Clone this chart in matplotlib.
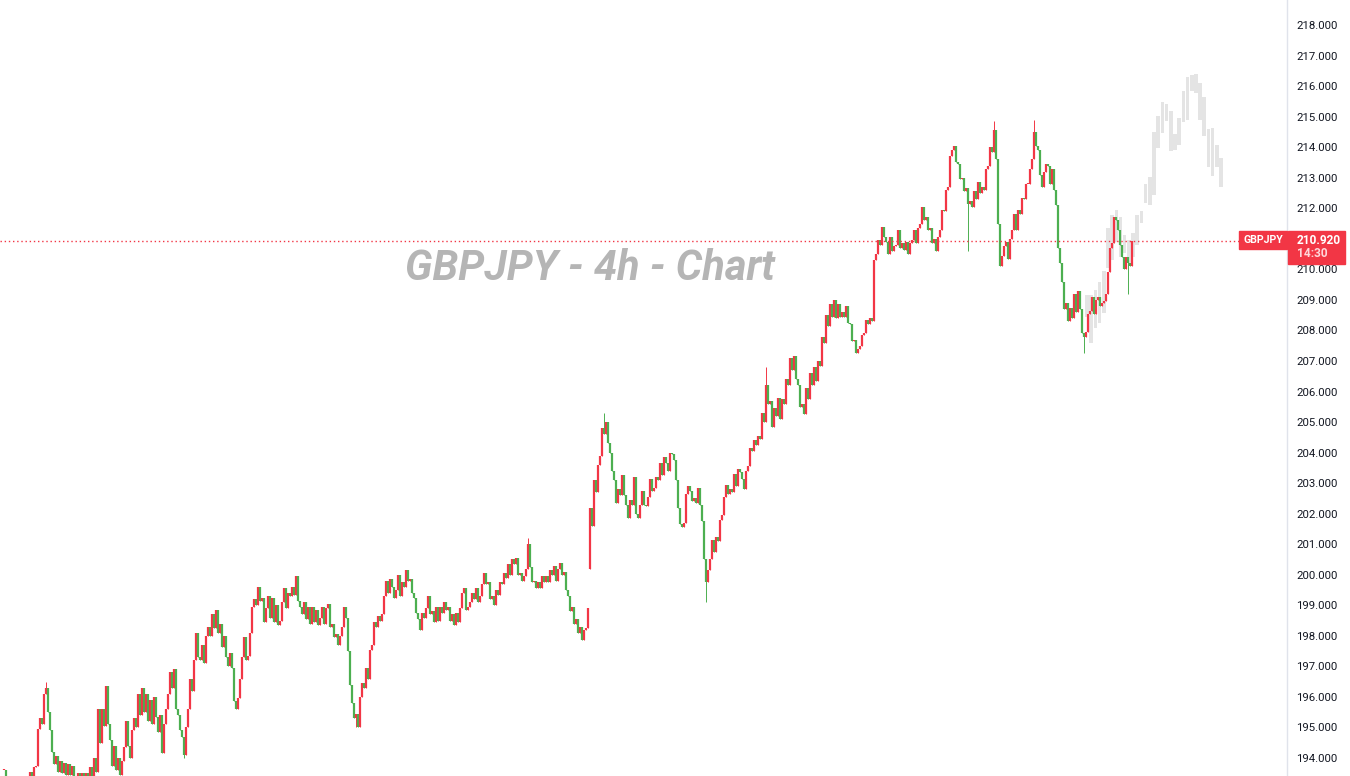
import numpy as np
import matplotlib.pyplot as plt
from matplotlib.patches import Rectangle

plt.rcParams['font.family'] = ['Roboto', 'DejaVu Sans']

up_col = '#f23645'
down_col = '#4caf50'
ghost_col = '#e4e4e4'

symbol = 'GBPJPY'
title = 'GBPJPY - 4h - Chart'
last_price = 210.92
countdown = '14:30'

# closes of the 4h candles left to right
closes_1 = [193.6,
            193.3, 193.3, 193.3, 193.3, 193.3, 193.3, 193.3, 193.3, 193.3, 193.3, 193.3, 193.3,
            193.55, 193.3, 193.7, 193.75, 194.95, 195.3, 195.1, 196.1, 196.3, 195.5,
            194.9, 194.2, 193.8, 194.05, 193.55, 193.9, 193.5, 193.85, 193.45, 193.8,
            193.45, 193.75, 193.4, 193.3, 193.5, 193.3, 193.5, 193.3, 193.5, 193.3,
            193.7, 193.35, 194.0, 193.55, 195.6, 194.5, 195.6, 195.05, 196.35, 195.1,
            194.6, 193.75, 194.4, 193.6, 194.0, 193.45, 193.9, 194.35, 195.2, 194.4,
            194.0, 194.9, 195.3, 195.0, 196.1, 195.4, 196.3, 195.5, 196.1, 195.2,
            195.9, 195.1, 196.0, 195.35, 194.85, 195.4, 194.15, 195.1, 195.6, 196.1,
            196.8, 196.3, 196.9, 195.6, 195.4, 194.9, 194.7, 194.1, 195.0, 195.6,
            196.6, 196.2, 197.2, 198.1, 197.3, 197.2]
closes_2 = [197.7, 197.1, 198.0, 198.3, 198.0, 198.7, 198.25, 198.85, 198.1, 198.4,
            197.65, 198.0, 197.3, 197.0, 197.45, 196.95, 195.85, 195.6, 195.95, 196.6,
            197.3, 197.95, 197.2, 197.35, 198.1, 198.95, 199.2, 199.0, 199.6, 199.15,
            199.25, 198.45, 198.9, 199.3, 198.6, 199.25, 198.45, 199.0, 198.35, 198.5,
            199.1, 199.55, 198.9, 199.4, 199.3, 199.6, 199.35, 199.95, 199.15, 198.95,
            198.7, 199.1, 198.55, 198.95, 198.4, 198.95, 198.45, 198.85, 198.35, 198.6,
            198.95, 198.4, 198.9, 199.05, 198.3, 198.4, 197.95, 198.05, 197.7, 198.0,
            198.3, 198.95, 198.6, 197.5, 196.4, 195.8, 195.3, 195.45, 195.0, 196.0,
            196.45, 196.3, 196.95, 196.6, 197.55, 197.7, 198.45, 198.3, 198.65, 198.5,
            198.7, 199.3, 199.8, 199.4, 199.85, 199.6, 199.25, 199.5, 200.0]
closes_3 = [199.3, 199.75, 199.6, 200.15, 199.8, 199.85, 199.4, 199.25, 198.75, 198.55,
            198.2, 198.75, 198.6, 198.9, 199.3, 198.7, 198.8, 198.45, 198.95, 198.5,
            198.95, 198.75, 199.1, 198.85, 198.95, 198.5, 198.7, 198.35, 198.75, 198.45,
            198.9, 199.4, 199.55, 198.85, 198.95, 199.1, 199.4, 199.2, 199.55, 199.1,
            199.3, 199.7, 200.05, 199.7, 199.75, 199.2, 199.3, 199.0, 199.5, 199.35,
            199.75, 199.7, 200.05, 199.9, 200.35, 200.0, 200.5, 200.35, 200.55, 200.0,
            200.05, 199.8, 199.95, 200.2, 201.0, 200.25, 199.75, 199.8, 199.55, 199.75,
            199.55, 199.95, 199.75, 199.95, 199.75, 200.15, 200.0, 200.3, 199.8, 200.2,
            200.4, 200.0, 200.1, 199.5, 199.3, 198.8, 198.95, 198.4, 198.55, 198.1,
            198.3, 197.85, 198.2, 198.25, 198.9]
closes_4 = [202.2, 201.6, 203.1, 202.7, 203.6, 203.9, 204.8, 204.6, 205.0, 204.3,
            204.0, 203.4, 203.1, 202.35, 202.8, 202.6, 203.25, 202.6, 202.3, 201.85,
            202.45, 202.3, 203.2, 202.0, 201.85, 202.3, 202.75, 202.3, 202.25, 202.55,
            203.15, 202.75, 202.85, 203.2, 203.1, 203.65, 203.25, 203.85, 203.65, 203.4,
            204.0, 203.95, 203.75, 203.1, 202.2, 201.65, 201.55, 201.7, 202.65, 202.9,
            202.75, 202.4, 202.5, 202.35, 202.85, 202.3, 201.75, 200.5, 199.75, 200.15,
            200.5, 201.15, 200.75, 201.25, 201.1, 201.8, 201.95, 202.55, 202.95, 202.65,
            202.8, 202.7, 203.3, 202.9, 203.45, 203.35, 203.15, 202.8, 203.4, 203.55,
            204.15, 204.05, 204.4, 204.25, 204.55, 204.45]
closes_5 = [205.3, 205.0, 206.2, 205.6, 205.7, 204.85, 205.45, 205.2, 205.8, 205.1,
            205.75, 205.6, 206.4, 206.2, 207.1, 206.7, 207.15, 206.4, 206.2, 205.5,
            205.6, 205.25, 206.1, 205.75, 206.6, 206.2, 206.8, 206.35, 207.0, 206.85,
            207.8, 207.6, 208.5, 208.15, 208.85, 208.45, 209.0, 208.4, 208.85, 208.45,
            208.6, 208.45, 208.8, 208.25, 208.2, 207.65, 207.7, 207.25, 207.4, 207.5,
            207.85, 207.9, 208.35, 208.2, 208.4, 208.3, 210.3, 210.5, 210.95, 210.8,
            211.4, 211.05, 210.9, 210.5, 211.05, 210.6, 210.75, 210.8, 211.3, 210.7,
            210.85, 210.65, 210.9, 210.5, 210.85, 210.95, 211.3, 210.85, 211.35, 211.5,
            212.05, 211.6, 211.7, 211.3, 211.35, 210.85, 211.0, 210.6, 211.05, 211.3]
closes_6 = [211.95, 211.9, 212.6, 212.7, 213.7, 213.9, 214.05, 213.5, 213.45, 212.95,
            213.0, 212.55, 212.65, 212.15, 212.25, 212.05, 212.55, 212.3, 212.85, 212.5,
            212.7, 212.6, 213.3, 213.4, 214.0, 213.85, 214.55, 213.6, 211.5, 210.1,
            210.45, 210.75, 210.9, 210.35, 211.0, 211.3, 211.8, 211.3, 211.95, 211.8,
            212.35, 212.3, 212.8, 212.8, 213.3, 213.6, 214.5, 214.05, 213.9, 213.1,
            212.7, 213.2, 213.45, 213.4, 212.8, 213.3, 212.6, 212.1, 210.7, 210.2,
            209.6, 208.7, 208.9, 208.3, 208.75, 208.4, 209.2, 208.6, 209.3, 208.7,
            207.9, 207.8, 207.95, 208.55, 208.65, 209.1, 208.55, 209.0, 209.1, 208.8,
            208.9, 208.95, 209.2, 209.9, 210.7, 210.85, 211.7, 211.6, 211.3, 210.8,
            210.4, 210.0, 210.4, 210.2, 210.1, 210.92]

# the gap after the weekend candle opens higher than the last close
open_fix = {293: 200.2}
# long wicks that stick out of the bodies
wick_hi = {21: 196.5, 51: 196.35, 262: 201.2, 300: 205.3, 381: 206.8, 495: 214.85, 515: 214.9}
wick_lo = {90: 194.0, 176: 195.0, 351: 199.1, 482: 210.6, 540: 207.25, 562: 209.2}

# faded projection candles on the right
ghost_top = [209.16, 209.16, 209.32, 209.58, 209.94, 211.35, 211.78, 211.94, 211.71, 211.12, 210.96,
             211.19, 211.78, 211.91, 212.79, 213.02, 214.50, 215.02, 215.48, 215.41, 215.18, 214.43,
             214.95, 215.84, 216.30, 216.36, 216.40, 216.10, 215.64, 214.59, 214.63, 214.07, 213.64]
ghost_bot = [208.44, 207.59, 208.08, 208.24, 208.57, 210.04, 210.30, 210.89, 210.40, 210.53, 210.21,
             210.40, 210.80, 211.52, 212.17, 212.11, 212.43, 213.97, 214.46, 214.86, 213.87, 213.91,
             214.07, 214.82, 214.89, 215.84, 215.77, 214.89, 214.37, 213.35, 213.06, 213.35, 212.70]
ghost_start = 541.5
ghost_step = 2.094

# 211.000 sits under the price label, so the scale does not print it
price_ticks = [v for v in range(194, 219) if v != 211]

closes = np.array(closes_1 + closes_2 + closes_3 + closes_4 + closes_5 + closes_6)
opens = np.r_[closes[0], closes[:-1]]
for k, v in open_fix.items():
    opens[k] = v
top = np.maximum(opens, closes)
bot = np.minimum(opens, closes)
hi = top.copy()
lo = bot.copy()
for k, v in wick_hi.items():
    hi[k] = v
for k, v in wick_lo.items():
    lo[k] = v
x = np.arange(len(closes))
cols = np.where(closes >= opens, up_col, down_col)

W, H = 1350, 776
fig = plt.figure(figsize=(W / 100, H / 100), dpi=100)
ax = fig.add_axes([0, 0, 1287 / W, 1])

gx = ghost_start + ghost_step * np.arange(len(ghost_top))
ax.bar(gx, np.array(ghost_top) - np.array(ghost_bot), bottom=ghost_bot, width=1.8,
       color=ghost_col, linewidth=0, zorder=1)

ax.vlines(x, lo, hi, colors=cols, linewidth=0.7, zorder=2)
ax.vlines(x, bot, np.maximum(top, bot + 0.04), colors=cols, linewidth=1.6, zorder=2)

ymin, ymax = 193.41, 218.82
ax.set_xlim(-2, 641.5)
ax.set_ylim(ymin, ymax)

ax.axhline(last_price, color=up_col, linestyle=(0, (1, 2)), linewidth=1, zorder=3)

ax.yaxis.tick_right()
ax.set_yticks(price_ticks)
ax.set_yticklabels([f'{v:.3f}' for v in price_ticks])
ax.set_xticks([])
ax.tick_params(axis='y', length=0, pad=6.5, labelsize=8.2, labelcolor='#131722')
for s in ['top', 'left', 'bottom']:
    ax.spines[s].set_visible(False)
ax.spines['right'].set_color('#e0e3eb')
ax.spines['right'].set_linewidth(1)

# price labels on the scale
yp = (last_price - ymin) / (ymax - ymin) * H
fig.patches.append(Rectangle((1239 / W, (yp - 8) / H), 48 / W, 18 / H,
                             transform=fig.transFigure, color=up_col, zorder=5))
fig.text(1263 / W, (yp + 1) / H, symbol, ha='center', va='center', color='white',
         fontsize=7.6, fontweight='bold', zorder=6)
fig.patches.append(Rectangle((1288 / W, (yp - 23) / H), 57 / W, 33 / H,
                             transform=fig.transFigure, color=up_col, zorder=5))
fig.text(1297 / W, (yp + 1) / H, f'{last_price:.3f}', ha='left', va='center', color='white',
         fontsize=8.6, fontweight='bold', zorder=6)
fig.text(1297 / W, (yp - 12.5) / H, countdown, ha='left', va='center', color='#ffd6da',
         fontsize=8.6, fontweight='bold', zorder=6)

fig.text(590 / W, 1 - 268 / H, title, ha='center', va='center', fontsize=30,
         fontweight='bold', style='italic', color='#b5b5b5')

fig.savefig('out.png', dpi=100)
